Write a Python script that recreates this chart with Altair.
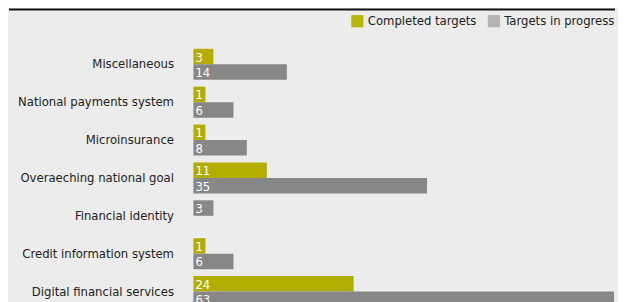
import altair as alt
import pandas as pd

categories = ["Miscellaneous", "National payments system", "Microinsurance",
              "Overaeching national goal", "Financial identity",
              "Credit information system", "Digital financial services"]
completed = [3, 1, 1, 11, 0, 1, 24]
in_progress = [14, 6, 8, 35, 3, 6, 63]
series = ["Completed targets", "Targets in progress"]

rows = []
for cat, c, p in zip(categories, completed, in_progress):
    slot = 0
    for name, v in zip(series, [c, p]):
        if v > 0:
            rows.append({"category": cat, "series": name, "value": v, "slot": slot})
            slot += 1
df = pd.DataFrame(rows)

FONT = "Tahoma, 'DejaVu Sans Condensed', 'DejaVu Sans', sans-serif"
bar_colors = ["#b3ad00", "#878787"]
legend_colors = ["#b5b800", "#b3b3b3"]

y_enc = alt.Y("category:N", sort=categories,
              scale=alt.Scale(paddingInner=0.18, paddingOuter=0.09),
              axis=alt.Axis(title=None, ticks=False, domain=False, labelPadding=20,
                            minExtent=185, maxExtent=185, labelFontSize=13,
                            labelFont=FONT, labelColor="#222222", labelLimit=300))
x_enc = alt.X("bar_end:Q", scale=alt.Scale(domain=[0, 63], nice=False, zero=True),
              axis=None)
yoff = alt.YOffset("slot:O", scale=alt.Scale(paddingInner=0, paddingOuter=0))

base = alt.Chart(df)
# minimum drawn bar length so that a one-digit label fits inside the bar
bars = base.transform_calculate(bar_end="max(datum.value, 1.8)").mark_bar(cornerRadius=0).encode(
    y=y_enc, x=x_enc, yOffset=yoff,
    color=alt.Color("series:N", scale=alt.Scale(domain=series, range=bar_colors),
                    legend=None),
)
labels = base.mark_text(align="left", baseline="middle", dx=2, dy=1, color="white",
                        font=FONT, fontSize=13).encode(
    y=alt.Y("category:N", sort=categories), yOffset=yoff,
    x=alt.datum(0), text="value:Q",
)
legend_layer = alt.Chart(pd.DataFrame({"series": series})).mark_square(opacity=0).encode(
    x=alt.value(0), y=alt.value(0),
    color=alt.Color("series:N", scale=alt.Scale(domain=series, range=legend_colors),
                    legend=alt.Legend(title=None, orient="none", direction="horizontal",
                                      legendX=158, legendY=-31, symbolType="square",
                                      symbolSize=150, symbolOpacity=1,
                                      symbolStrokeWidth=0, labelFont=FONT,
                                      labelFontSize=13, labelColor="#222222",
                                      columnPadding=10, labelOffset=4)),
)
top_rule = alt.Chart(pd.DataFrame({"a": [0]})).mark_rule(color="#111111", strokeWidth=2).encode(
    x=alt.value(-185), x2=alt.value(423), y=alt.value(-36),
)

chart = alt.layer(bars, labels, legend_layer, top_rule).resolve_scale(
    color="independent"
).properties(
    width=422, height=266, background="#ececec",
    padding={"left": 0, "top": 0, "right": 2, "bottom": 0},
).configure_view(stroke=None)

chart.save("out.html", embed_options={"renderer": "svg", "actions": False})
